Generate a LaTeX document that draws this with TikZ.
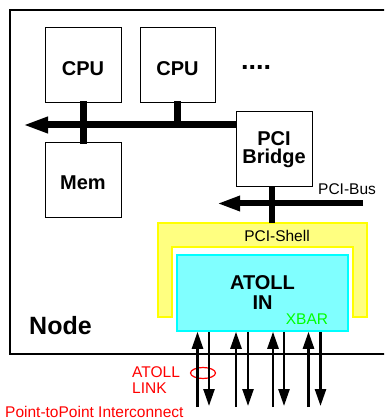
\documentclass[tikz,border=0pt]{standalone}
\usepackage{fontspec}
\setmainfont{Liberation Sans}
\usetikzlibrary{arrows.meta,shapes.geometric}
\definecolor{shellfill}{HTML}{FFFF80}
\definecolor{shelldraw}{HTML}{FFFF00}
\definecolor{infill}{HTML}{80FFFF}
\definecolor{indraw}{HTML}{00FFFF}
\definecolor{linkred}{HTML}{FF0000}
\definecolor{xbargreen}{HTML}{00FF00}
\begin{document}
\begin{tikzpicture}[x=1pt,y=-1pt,
  box/.style={draw, line width=1pt, fill=white, inner sep=0pt},
  boldtxt/.style={font=\fontsize{20}{18}\selectfont\bfseries},
  lbl/.style={font=\fontsize{15.5}{16}\selectfont, inner sep=0pt},
  busline/.style={line width=7pt, -{Triangle[length=25pt,width=15pt]}},
  pcibusline/.style={line width=6pt, -{Triangle[length=23pt,width=14pt]}},
  stub/.style={line width=7pt},
  linkarrow/.style={line width=2.5pt, -{Triangle[length=17pt,width=11pt]}}]
\useasboundingbox (0,0) rectangle (384,419);
\clip (0,0) rectangle (384,419);
% outer node box
\draw[line width=2pt] (10,10) rectangle (420,354);
\node[font=\fontsize{25}{25}\selectfont\bfseries, inner sep=0pt, anchor=base west] (nodelbl) at (29,334) {Node};
% processors and memory
\node[box, boldtxt, minimum width=76pt, minimum height=75pt, text height=21pt, text depth=0pt] (cpu1) at (83,65.5) {CPU};
\node[box, boldtxt, minimum width=75pt, minimum height=75pt, text height=21pt, text depth=0pt] (cpu2) at (177.5,65.5) {CPU};
\node[font=\fontsize{27}{27}\selectfont\bfseries, inner sep=0pt, anchor=base west] (dots) at (241,70) {....};
\node[box, boldtxt, minimum width=76pt, minimum height=74pt, text height=20pt, text depth=0pt] (mem) at (83,180) {Mem};
\node[box, boldtxt, minimum width=76pt, minimum height=75pt, align=center] (bridge) at (274,149.5) {PCI\\Bridge};
% system bus
\coordinate (busL) at (23,125);
\draw[busline] (bridge.west |- busL) -- (busL);
\draw[stub] ([yshift=2pt]cpu1.south) -- ([yshift=-2pt]mem.north);
\draw[stub] ([yshift=2pt]cpu2.south) -- (cpu2.south |- busL);
% PCI bus
\coordinate (pciR) at (363,203.5);
\coordinate (pciL) at (217,203.5);
\draw[pcibusline] (pciR) -- (pciL);
\node[lbl, anchor=base west] (pcibuslbl) at (318,195) {PCI-Bus};
% PCI shell
\draw[draw=shelldraw, fill=shellfill, line width=1.5pt]
  (158,223) -- (367,223) -- (367,317) -- (353,317) -- (353,247)
  -- (172,247) -- (172,317) -- (158,317) -- cycle;
\coordinate (shelltop) at (272,223);
\draw[line width=6pt] (bridge.south -| shelltop) -- (shelltop);
\node[lbl, anchor=base] (shelllbl) at (277,241) {PCI-Shell};
% ATOLL IN
\node[draw=indraw, fill=infill, line width=1.5pt, inner sep=0pt,
      minimum width=171pt, minimum height=76pt, align=center,
      font=\fontsize{20}{20}\selectfont\bfseries] (atoll) at (262.5,293) {ATOLL\\IN};
\node[lbl, text=xbargreen, anchor=base] (xbar) at (307,324) {XBAR};
% link annotation
\node[draw=linkred, line width=1.2pt, ellipse, inner sep=0pt,
      minimum width=25pt, minimum height=11pt] (linkell) at (203,373) {};
\node[lbl, text=linkred, align=left, anchor=north west] (linklbl) at (132,366) {ATOLL\\LINK};
\node[lbl, text=linkred, anchor=base west] (p2p) at (5,417) {Point-toPoint Interconnect};
% links
\foreach \i/\ux/\dx in {1/197.5/209, 2/236/248, 3/273/284, 4/308.5/320.5} {
  \coordinate (u\i) at (\ux,407);
  \coordinate (d\i) at (\dx,406);
  \draw[linkarrow] (u\i) -- (u\i |- atoll.south);
  \draw[linkarrow] (d\i |- atoll.south) -- (d\i);
}
\end{tikzpicture}
\end{document}
